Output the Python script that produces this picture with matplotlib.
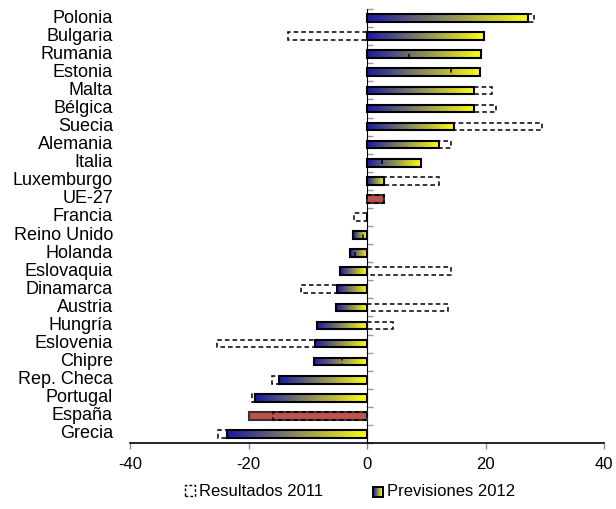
import matplotlib.pyplot as plt
import numpy as np
from matplotlib.colors import LinearSegmentedColormap
from matplotlib.patches import Rectangle
from matplotlib.transforms import blended_transform_factory

plt.rcParams['font.family'] = ['Liberation Sans', 'DejaVu Sans']
plt.rcParams['axes.unicode_minus'] = False

countries = ['Polonia', 'Bulgaria', 'Rumania', 'Estonia', 'Malta', 'Bélgica',
             'Suecia', 'Alemania', 'Italia', 'Luxemburgo', 'UE-27', 'Francia',
             'Reino Unido', 'Holanda', 'Eslovaquia', 'Dinamarca', 'Austria',
             'Hungría', 'Eslovenia', 'Chipre', 'Rep. Checa', 'Portugal',
             'España', 'Grecia']
prev_2012 = [27.2, 19.7, 19.3, 19.1, 18.1, 18.1, 14.7, 12.2, 9.1, 2.9, 2.9, 0.0,
             -2.3, -2.9, -4.5, -5.1, -5.2, -8.4, -8.7, -8.9, -14.9, -18.9,
             -19.9, -23.7]
res_2011 = [28.2, -13.4, 7.1, 14.1, 21.1, 21.7, 29.6, 14.1, 2.5, 12.2, 2.9, -2.2,
            -0.6, -2.0, 14.1, -11.2, 13.7, 4.4, -25.4, -4.2, -16.1, -19.4,
            -15.9, -25.2]
highlight = ['UE-27', 'España']

BLUE = '#1a1aa6'
YELLOW = '#ffff10'
RED = '#c0504d'
cmap = LinearSegmentedColormap.from_list('by', [BLUE, YELLOW])

fig = plt.figure(figsize=(6.16, 5.09), dpi=100)
ax = fig.add_axes([130 / 616, 1 - 443 / 509, 474 / 616, 434 / 509])

y = np.arange(len(countries))
bh = 0.42

# previsiones 2012 (gradient bars, red for highlighted ones)
bars = ax.barh(y, prev_2012, height=bh, facecolor='none', edgecolor='black',
               linewidth=1.5, zorder=3)
grad = np.linspace(0, 1, 256).reshape(1, -1)
for rect, name in zip(bars, countries):
    if name in highlight:
        rect.set_facecolor(RED)
        rect.set_edgecolor('#333333')
        continue
    bb = rect.get_bbox()
    x0, x1 = min(bb.x0, bb.x1), max(bb.x0, bb.x1)
    if x1 - x0 <= 0:
        continue
    im = ax.imshow(grad, cmap=cmap, aspect='auto', zorder=2,
                   extent=(x0, x1, max(bb.y0, bb.y1), min(bb.y0, bb.y1)))
    im.set_clip_path(rect)

# resultados 2011 (dashed outline)
ax.barh(y, res_2011, height=bh, facecolor='none', edgecolor='black',
        linewidth=1.1, linestyle=(0, (3, 2)), zorder=4)

ax.set_xlim(-40, 40)
ax.set_ylim(len(countries) - 0.5, -0.5)
ax.set_xticks([-40, -20, 0, 20, 40])
ax.tick_params(axis='x', colors='#888888', labelcolor='black', labelsize=12,
               length=4, width=1, pad=6)
ax.set_yticks([])
for s in ['top', 'right', 'left']:
    ax.spines[s].set_visible(False)
ax.spines['bottom'].set_linewidth(1.2)

# country labels at the left edge
tr = blended_transform_factory(ax.transAxes, ax.transData)
for yi, name in zip(y, countries):
    ax.text(-0.036, yi, name, transform=tr, ha='right', va='center', fontsize=13)

# zero axis with small gray ticks between categories
sec = ax.secondary_yaxis(0.5)
sec.set_yticks(np.arange(len(countries) + 1) - 0.5)
sec.set_yticklabels([])
sec.tick_params(axis='y', colors='#999999', length=4, width=1)
sec.spines['left'].set_color('black')
sec.spines['left'].set_linewidth(1.2)


class GradientHandler:
    def legend_artist(self, legend, orig_handle, fontsize, handlebox):
        x0, y0 = handlebox.xdescent, handlebox.ydescent
        w, h = handlebox.width, handlebox.height
        tf = handlebox.get_transform()
        n = 10
        for i in range(n):
            c = cmap(i / (n - 1))
            handlebox.add_artist(Rectangle((x0 + w * i / n, y0), w / n, h,
                                           facecolor=c, edgecolor='none',
                                           transform=tf))
        outline = Rectangle((x0, y0), w, h, facecolor='none', edgecolor='black',
                            linewidth=1.4, transform=tf)
        handlebox.add_artist(outline)
        return outline


h2011 = Rectangle((0, 0), 1, 1, facecolor='none', edgecolor='black',
                  linewidth=1.0, linestyle=(0, (2, 1.5)))
h2012 = Rectangle((0, 0), 1, 1, facecolor='none')
fig.legend([h2011, h2012], ['Resultados 2011', 'Previsiones 2012'],
           handler_map={h2012: GradientHandler()},
           loc='center', bbox_to_anchor=(350 / 616, 1 - 492 / 509),
           ncol=2, frameon=False, fontsize=12, handlelength=0.6,
           handleheight=0.6, handletextpad=0.25, columnspacing=3.0)

fig.savefig('out.png', dpi=100)
